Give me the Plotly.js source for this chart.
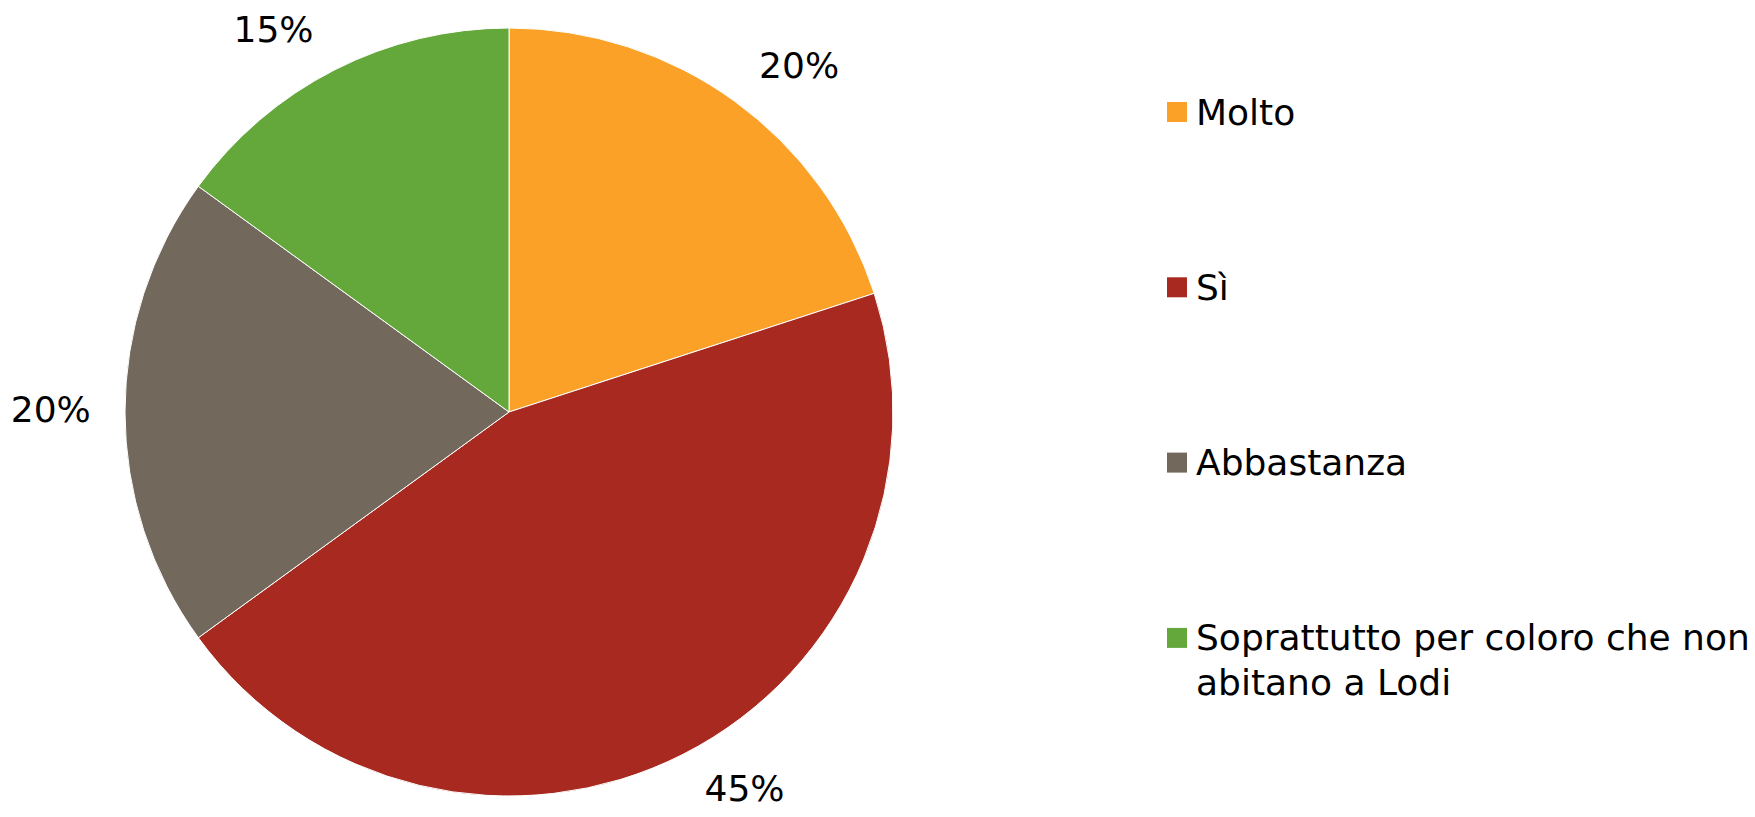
<!DOCTYPE html>
<html>
<head>
<meta charset="utf-8">
<script src="https://cdn.plot.ly/plotly-3.0.1.min.js"></script>
<style>html,body{margin:0;padding:0;background:#fff;}#chart{width:1755px;height:817px;}</style>
</head>
<body>
<div id="chart"></div>
<script>
const categories = ["Molto", "Sì", "Abbastanza", "Soprattutto per coloro che non<br>abitano a Lodi"];
const values = [20, 45, 20, 15];
const colors = ["#FBA127", "#A8291F", "#72685B", "#64A83C"];

const FONT = "DejaVu Sans, Liberation Sans, Arial, sans-serif";
const W = 1755, H = 817;
const CX = 509, CY = 412, R = 384, LABEL_R = 411;

function dom(r) {
  return { x: [(CX - r) / W, (CX + r) / W], y: [(H - CY - r) / H, (H - CY + r) / H] };
}

const pie = {
  type: "pie",
  labels: categories,
  values: values,
  sort: false,
  direction: "clockwise",
  rotation: 0,
  marker: { colors: colors, line: { color: "#ffffff", width: 1 } },
  textinfo: "none",
  showlegend: false,
  hoverinfo: "label+percent",
  domain: dom(R)
};

// same data, transparent, slightly larger: carries the outside percentage labels
const labelPie = {
  type: "pie",
  labels: categories,
  values: values,
  sort: false,
  direction: "clockwise",
  rotation: 0,
  marker: { colors: categories.map(() => "rgba(0,0,0,0)"), line: { width: 0 } },
  texttemplate: "%{percent:.0%}",
  textposition: "outside",
  outsidetextfont: { family: FONT, size: 36, color: "#000" },
  showlegend: false,
  hoverinfo: "skip",
  domain: dom(LABEL_R)
};

// legend built from the category arrays
const legendX = 1167, legendTextX = 1194, legendTop = 112, legendStep = 175.3, box = 20, lineGap = 45;
const shapes = [], annotations = [];
categories.forEach((c, i) => {
  const yc = legendTop + i * legendStep;
  shapes.push({
    type: "rect", xref: "paper", yref: "paper",
    x0: legendX / W, x1: (legendX + box) / W,
    y0: 1 - (yc - box / 2) / H, y1: 1 - (yc + box / 2) / H,
    fillcolor: colors[i], line: { width: 0 }
  });
  c.split("<br>").forEach((line, j) => {
    annotations.push({
      xref: "paper", yref: "paper",
      x: legendTextX / W, y: 1 - (yc + j * lineGap) / H,
      xanchor: "left", yanchor: "middle",
      text: line, showarrow: false, align: "left",
      font: { family: FONT, size: 36, color: "#000" }
    });
  });
});

const layout = {
  width: W, height: H,
  margin: { l: 0, r: 0, t: 0, b: 0 },
  paper_bgcolor: "#fff", plot_bgcolor: "#fff",
  showlegend: false,
  shapes: shapes,
  annotations: annotations
};

Plotly.newPlot("chart", [pie, labelPie], layout, { displayModeBar: false, staticPlot: true });
</script>
</body>
</html>
